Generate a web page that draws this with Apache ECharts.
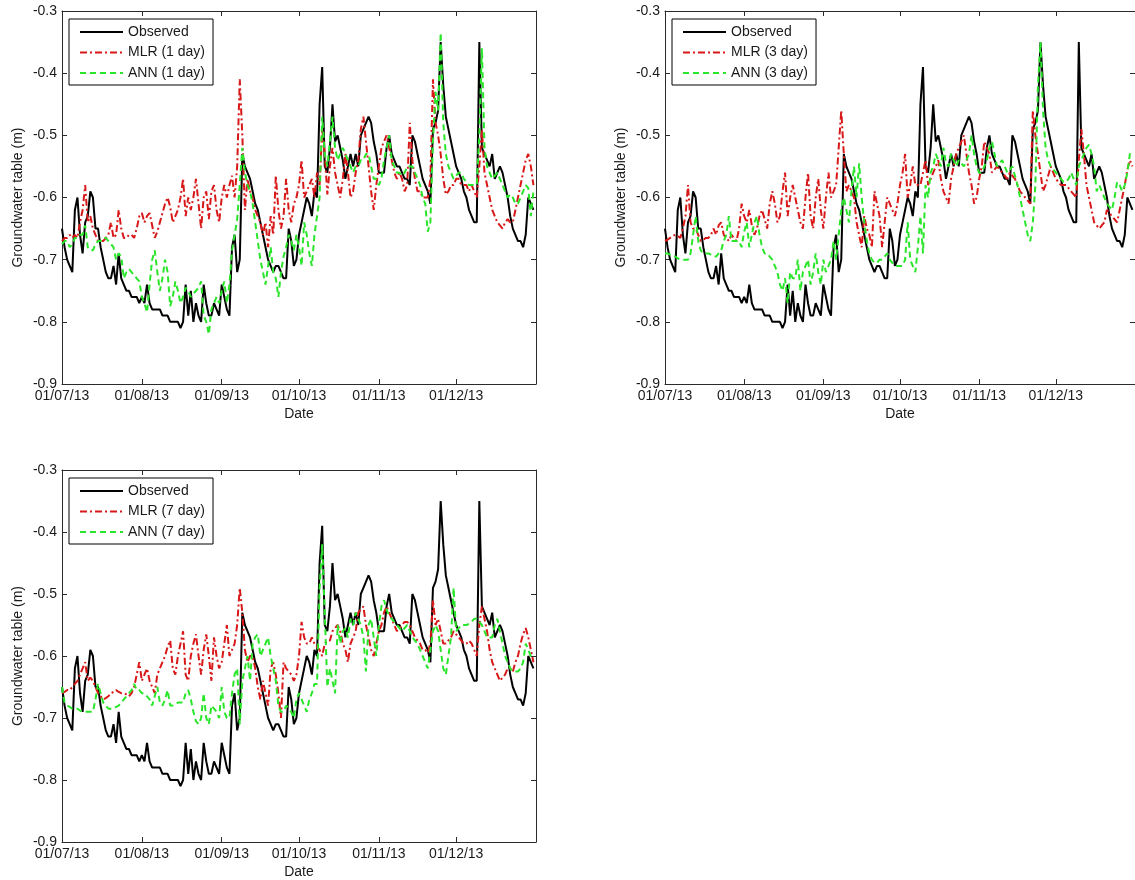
<!DOCTYPE html>
<html>
<head>
<meta charset="utf-8">
<title>Groundwater table: observed vs MLR and ANN forecasts</title>
<script src="https://cdn.jsdelivr.net/npm/echarts@6/dist/echarts.min.js"></script>
<style>
  html, body { margin: 0; padding: 0; background: #fff; overflow: hidden; }
  #chart { width: 1135px; height: 880px; }
</style>
</head>
<body>
<div id="chart"></div>
<script>
// Day index 0 = 01/07/13, one value per day through 31/12/13
const monthStartDays = [0, 31, 62, 92, 123, 153];
const monthLabels = ['01/07/13', '01/08/13', '01/09/13', '01/10/13', '01/11/13', '01/12/13'];
const yTicks = [-0.9, -0.8, -0.7, -0.6, -0.5, -0.4, -0.3];

const observed = [
-0.65,-0.68,-0.70,-0.71,-0.72,-0.62,-0.60,-0.66,-0.69,-0.64,
-0.63,-0.59,-0.60,-0.65,-0.65,-0.68,-0.70,-0.72,-0.73,-0.73,
-0.71,-0.74,-0.69,-0.73,-0.74,-0.75,-0.75,-0.76,-0.76,-0.76,
-0.77,-0.76,-0.77,-0.74,-0.77,-0.78,-0.78,-0.78,-0.78,-0.79,
-0.79,-0.79,-0.80,-0.80,-0.80,-0.80,-0.81,-0.80,-0.74,-0.79,
-0.75,-0.80,-0.77,-0.79,-0.80,-0.74,-0.77,-0.79,-0.79,-0.77,
-0.78,-0.79,-0.74,-0.76,-0.78,-0.79,-0.68,-0.66,-0.72,-0.70,
-0.53,-0.55,-0.56,-0.57,-0.59,-0.61,-0.62,-0.64,-0.66,-0.68,
-0.70,-0.71,-0.72,-0.71,-0.71,-0.72,-0.73,-0.73,-0.65,-0.67,
-0.71,-0.70,-0.66,-0.64,-0.62,-0.60,-0.61,-0.63,-0.59,-0.60,
-0.45,-0.39,-0.55,-0.56,-0.52,-0.45,-0.51,-0.50,-0.52,-0.54,
-0.57,-0.55,-0.53,-0.55,-0.53,-0.55,-0.50,-0.49,-0.48,-0.47,
-0.48,-0.51,-0.53,-0.56,-0.56,-0.56,-0.52,-0.50,-0.53,-0.54,
-0.55,-0.55,-0.56,-0.57,-0.57,-0.58,-0.50,-0.51,-0.53,-0.55,
-0.57,-0.58,-0.59,-0.61,-0.49,-0.48,-0.46,-0.35,-0.42,-0.47,
-0.49,-0.51,-0.53,-0.55,-0.56,-0.57,-0.59,-0.60,-0.62,-0.63,
-0.64,-0.64,-0.35,-0.52,-0.53,-0.54,-0.55,-0.53,-0.57,-0.56,
-0.55,-0.56,-0.58,-0.60,-0.63,-0.65,-0.66,-0.67,-0.67,-0.68,
-0.66,-0.60,-0.61,-0.62
];

const mlr1 = [
-0.67,-0.665,-0.665,-0.66,-0.665,-0.66,-0.665,-0.64,-0.62,-0.58,
-0.64,-0.63,-0.65,-0.66,-0.67,-0.67,-0.67,-0.665,-0.66,-0.64,
-0.665,-0.66,-0.62,-0.65,-0.665,-0.665,-0.66,-0.66,-0.665,-0.65,
-0.63,-0.625,-0.64,-0.63,-0.625,-0.645,-0.665,-0.655,-0.64,-0.625,
-0.61,-0.60,-0.615,-0.64,-0.63,-0.62,-0.60,-0.57,-0.63,-0.60,
-0.62,-0.60,-0.57,-0.61,-0.65,-0.60,-0.59,-0.635,-0.59,-0.58,
-0.62,-0.64,-0.60,-0.58,-0.60,-0.58,-0.565,-0.60,-0.55,-0.41,
-0.50,-0.62,-0.57,-0.59,-0.60,-0.62,-0.63,-0.64,-0.66,-0.64,
-0.68,-0.63,-0.66,-0.565,-0.62,-0.65,-0.63,-0.57,-0.62,-0.64,
-0.61,-0.60,-0.58,-0.54,-0.60,-0.59,-0.58,-0.57,-0.60,-0.56,
-0.58,-0.49,-0.53,-0.595,-0.55,-0.52,-0.56,-0.58,-0.60,-0.57,
-0.53,-0.56,-0.60,-0.59,-0.56,-0.54,-0.49,-0.47,-0.51,-0.55,
-0.59,-0.62,-0.58,-0.55,-0.52,-0.51,-0.50,-0.52,-0.54,-0.56,
-0.57,-0.56,-0.57,-0.59,-0.58,-0.48,-0.54,-0.57,-0.59,-0.59,
-0.60,-0.60,-0.60,-0.57,-0.41,-0.48,-0.50,-0.53,-0.57,-0.595,
-0.59,-0.58,-0.58,-0.57,-0.57,-0.58,-0.58,-0.58,-0.59,-0.58,
-0.59,-0.60,-0.55,-0.49,-0.56,-0.58,-0.60,-0.62,-0.63,-0.64,
-0.645,-0.65,-0.64,-0.635,-0.64,-0.64,-0.62,-0.60,-0.58,-0.56,
-0.54,-0.53,-0.55,-0.58
];

const ann1 = [
-0.675,-0.67,-0.67,-0.68,-0.675,-0.665,-0.665,-0.66,-0.66,-0.645,
-0.68,-0.685,-0.685,-0.675,-0.67,-0.67,-0.665,-0.665,-0.67,-0.675,
-0.68,-0.70,-0.69,-0.695,-0.73,-0.72,-0.715,-0.72,-0.725,-0.73,
-0.735,-0.76,-0.77,-0.785,-0.74,-0.70,-0.685,-0.72,-0.75,-0.73,
-0.70,-0.72,-0.775,-0.76,-0.735,-0.75,-0.77,-0.76,-0.745,-0.75,
-0.76,-0.755,-0.75,-0.745,-0.735,-0.79,-0.80,-0.82,-0.78,-0.77,
-0.76,-0.77,-0.75,-0.735,-0.77,-0.74,-0.685,-0.66,-0.635,-0.58,
-0.52,-0.56,-0.58,-0.59,-0.61,-0.64,-0.67,-0.70,-0.72,-0.74,
-0.71,-0.68,-0.72,-0.73,-0.76,-0.72,-0.695,-0.68,-0.66,-0.67,
-0.685,-0.66,-0.68,-0.71,-0.64,-0.66,-0.69,-0.71,-0.66,-0.63,
-0.60,-0.47,-0.53,-0.55,-0.51,-0.47,-0.52,-0.54,-0.53,-0.52,
-0.53,-0.54,-0.55,-0.56,-0.55,-0.55,-0.54,-0.54,-0.53,-0.53,
-0.55,-0.57,-0.57,-0.58,-0.57,-0.54,-0.52,-0.50,-0.54,-0.55,
-0.56,-0.56,-0.565,-0.56,-0.55,-0.55,-0.55,-0.56,-0.57,-0.58,
-0.60,-0.61,-0.655,-0.64,-0.51,-0.43,-0.46,-0.335,-0.48,-0.53,
-0.55,-0.56,-0.57,-0.565,-0.56,-0.56,-0.57,-0.575,-0.58,-0.58,
-0.58,-0.58,-0.50,-0.36,-0.52,-0.55,-0.56,-0.57,-0.565,-0.56,
-0.57,-0.58,-0.59,-0.60,-0.595,-0.60,-0.61,-0.61,-0.60,-0.59,
-0.58,-0.585,-0.63,-0.59
];

const mlr3 = [
-0.67,-0.668,-0.665,-0.662,-0.66,-0.662,-0.665,-0.65,-0.63,-0.58,
-0.64,-0.65,-0.65,-0.66,-0.67,-0.668,-0.665,-0.665,-0.66,-0.65,
-0.66,-0.645,-0.64,-0.66,-0.665,-0.67,-0.66,-0.665,-0.67,-0.65,
-0.61,-0.63,-0.64,-0.62,-0.645,-0.66,-0.65,-0.63,-0.62,-0.635,
-0.65,-0.61,-0.59,-0.61,-0.64,-0.63,-0.59,-0.56,-0.63,-0.60,
-0.58,-0.60,-0.62,-0.64,-0.65,-0.60,-0.56,-0.63,-0.65,-0.60,
-0.57,-0.62,-0.65,-0.60,-0.56,-0.60,-0.59,-0.58,-0.52,-0.46,
-0.53,-0.59,-0.58,-0.59,-0.60,-0.64,-0.66,-0.68,-0.63,-0.65,
-0.66,-0.68,-0.59,-0.61,-0.63,-0.68,-0.64,-0.60,-0.61,-0.62,
-0.63,-0.61,-0.58,-0.56,-0.53,-0.60,-0.58,-0.55,-0.58,-0.58,
-0.58,-0.56,-0.54,-0.58,-0.57,-0.56,-0.55,-0.54,-0.57,-0.59,
-0.60,-0.61,-0.57,-0.55,-0.53,-0.52,-0.51,-0.50,-0.53,-0.56,
-0.58,-0.61,-0.60,-0.57,-0.55,-0.51,-0.52,-0.53,-0.56,-0.555,
-0.55,-0.555,-0.56,-0.565,-0.57,-0.56,-0.565,-0.57,-0.58,-0.59,
-0.595,-0.60,-0.605,-0.61,-0.46,-0.50,-0.53,-0.56,-0.59,-0.58,
-0.565,-0.55,-0.56,-0.57,-0.575,-0.58,-0.58,-0.58,-0.585,-0.59,
-0.595,-0.60,-0.54,-0.49,-0.53,-0.58,-0.60,-0.62,-0.64,-0.645,
-0.65,-0.645,-0.64,-0.62,-0.625,-0.63,-0.635,-0.64,-0.62,-0.60,
-0.58,-0.555,-0.54,-0.55
];

const ann3 = [
-0.69,-0.69,-0.692,-0.695,-0.695,-0.698,-0.70,-0.70,-0.70,-0.70,
-0.69,-0.66,-0.63,-0.67,-0.685,-0.69,-0.69,-0.69,-0.692,-0.695,
-0.695,-0.69,-0.685,-0.67,-0.66,-0.63,-0.67,-0.67,-0.67,-0.67,
-0.68,-0.655,-0.64,-0.68,-0.66,-0.64,-0.63,-0.66,-0.68,-0.69,
-0.69,-0.695,-0.70,-0.71,-0.72,-0.74,-0.75,-0.73,-0.77,-0.72,
-0.73,-0.73,-0.70,-0.75,-0.72,-0.71,-0.70,-0.74,-0.72,-0.69,
-0.72,-0.74,-0.70,-0.72,-0.71,-0.70,-0.67,-0.70,-0.66,-0.62,
-0.60,-0.62,-0.64,-0.59,-0.55,-0.60,-0.545,-0.60,-0.64,-0.67,
-0.69,-0.70,-0.705,-0.705,-0.70,-0.70,-0.695,-0.69,-0.70,-0.705,
-0.71,-0.71,-0.71,-0.71,-0.70,-0.64,-0.70,-0.71,-0.72,-0.68,
-0.63,-0.69,-0.58,-0.60,-0.56,-0.55,-0.53,-0.54,-0.55,-0.52,
-0.545,-0.55,-0.53,-0.54,-0.55,-0.54,-0.545,-0.55,-0.54,-0.53,
-0.50,-0.53,-0.55,-0.56,-0.56,-0.55,-0.54,-0.52,-0.51,-0.53,
-0.55,-0.545,-0.54,-0.55,-0.56,-0.555,-0.55,-0.565,-0.58,-0.60,
-0.62,-0.64,-0.66,-0.67,-0.64,-0.58,-0.42,-0.35,-0.46,-0.52,
-0.54,-0.55,-0.555,-0.56,-0.565,-0.57,-0.575,-0.575,-0.57,-0.56,
-0.57,-0.58,-0.55,-0.54,-0.53,-0.52,-0.515,-0.53,-0.55,-0.59,
-0.58,-0.59,-0.60,-0.61,-0.615,-0.62,-0.60,-0.575,-0.58,-0.59,
-0.58,-0.56,-0.53,-0.53
];

const mlr7 = [
-0.66,-0.658,-0.655,-0.655,-0.65,-0.645,-0.64,-0.63,-0.62,-0.61,
-0.64,-0.635,-0.64,-0.65,-0.66,-0.665,-0.67,-0.668,-0.665,-0.66,
-0.658,-0.655,-0.658,-0.66,-0.66,-0.662,-0.665,-0.66,-0.65,-0.63,
-0.61,-0.64,-0.63,-0.62,-0.64,-0.65,-0.66,-0.63,-0.62,-0.61,
-0.60,-0.585,-0.575,-0.62,-0.63,-0.60,-0.58,-0.56,-0.63,-0.64,
-0.60,-0.58,-0.565,-0.60,-0.63,-0.59,-0.565,-0.60,-0.64,-0.57,
-0.60,-0.62,-0.61,-0.58,-0.55,-0.60,-0.59,-0.58,-0.55,-0.49,
-0.53,-0.59,-0.61,-0.60,-0.60,-0.62,-0.65,-0.67,-0.64,-0.66,
-0.68,-0.62,-0.61,-0.63,-0.66,-0.70,-0.61,-0.62,-0.625,-0.63,
-0.64,-0.63,-0.60,-0.545,-0.57,-0.58,-0.58,-0.57,-0.58,-0.585,
-0.59,-0.60,-0.58,-0.575,-0.575,-0.56,-0.555,-0.55,-0.56,-0.58,
-0.59,-0.61,-0.58,-0.57,-0.56,-0.53,-0.525,-0.52,-0.55,-0.57,
-0.59,-0.60,-0.58,-0.56,-0.55,-0.53,-0.52,-0.53,-0.54,-0.55,
-0.56,-0.555,-0.55,-0.545,-0.545,-0.55,-0.56,-0.57,-0.575,-0.58,
-0.59,-0.59,-0.595,-0.58,-0.51,-0.55,-0.54,-0.56,-0.58,-0.58,
-0.575,-0.57,-0.56,-0.565,-0.57,-0.575,-0.58,-0.58,-0.575,-0.58,
-0.59,-0.60,-0.55,-0.52,-0.54,-0.56,-0.59,-0.61,-0.62,-0.63,
-0.64,-0.635,-0.63,-0.62,-0.62,-0.625,-0.61,-0.60,-0.58,-0.565,
-0.555,-0.57,-0.59,-0.61
];

const ann7 = [
-0.65,-0.675,-0.68,-0.682,-0.685,-0.685,-0.685,-0.688,-0.69,-0.69,
-0.69,-0.69,-0.69,-0.67,-0.645,-0.66,-0.675,-0.68,-0.685,-0.685,
-0.685,-0.682,-0.68,-0.675,-0.67,-0.665,-0.66,-0.655,-0.645,-0.655,
-0.655,-0.66,-0.66,-0.665,-0.67,-0.68,-0.665,-0.65,-0.675,-0.68,
-0.67,-0.655,-0.68,-0.68,-0.678,-0.675,-0.675,-0.675,-0.66,-0.655,
-0.67,-0.69,-0.705,-0.71,-0.70,-0.66,-0.70,-0.71,-0.68,-0.685,
-0.69,-0.70,-0.65,-0.69,-0.70,-0.70,-0.66,-0.63,-0.62,-0.71,
-0.64,-0.62,-0.60,-0.64,-0.58,-0.57,-0.565,-0.60,-0.59,-0.58,
-0.57,-0.60,-0.62,-0.64,-0.68,-0.69,-0.69,-0.68,-0.685,-0.69,
-0.70,-0.67,-0.66,-0.67,-0.68,-0.69,-0.67,-0.66,-0.645,-0.645,
-0.49,-0.42,-0.53,-0.65,-0.62,-0.64,-0.66,-0.55,-0.58,-0.56,
-0.555,-0.57,-0.54,-0.55,-0.53,-0.54,-0.55,-0.57,-0.625,-0.55,
-0.54,-0.57,-0.60,-0.55,-0.52,-0.51,-0.525,-0.535,-0.54,-0.545,
-0.55,-0.555,-0.56,-0.555,-0.55,-0.56,-0.57,-0.575,-0.58,-0.59,
-0.60,-0.61,-0.62,-0.59,-0.56,-0.55,-0.56,-0.59,-0.62,-0.63,
-0.60,-0.57,-0.49,-0.56,-0.555,-0.55,-0.55,-0.55,-0.548,-0.545,
-0.54,-0.54,-0.545,-0.55,-0.56,-0.57,-0.57,-0.57,-0.55,-0.54,
-0.56,-0.58,-0.60,-0.61,-0.62,-0.625,-0.625,-0.625,-0.62,-0.61,
-0.58,-0.59,-0.60,-0.60
];

const panels = [
  { mlr: mlr1, ann: ann1, mlrName: 'MLR (1 day)', annName: 'ANN (1 day)', left: 62, top: 11 },
  { mlr: mlr3, ann: ann3, mlrName: 'MLR (3 day)', annName: 'ANN (3 day)', left: 665, top: 11 },
  { mlr: mlr7, ann: ann7, mlrName: 'MLR (7 day)', annName: 'ANN (7 day)', left: 62, top: 470 }
];

const FONT = 'Liberation Sans, Arial, Helvetica, sans-serif';
const TEXT = '#1a1a1a';
const FRAME = '#2b2b2b';
const RED = '#d81818';
const GREEN = '#2ae62a';
const PLOT_W = 474, PLOT_H = 373;
const X_MAX = 184;

const toPairs = arr => arr.map((v, i) => [i, v]);
const labelFor = v => {
  const k = monthStartDays.indexOf(Math.round(v));
  return k >= 0 ? monthLabels[k] : '';
};

const grid = [], xAxis = [], yAxis = [], series = [], legend = [];

panels.forEach((p, i) => {
  grid.push({ left: p.left, top: p.top, width: PLOT_W, height: PLOT_H, containLabel: false });

  const xBase = {
    type: 'value', gridIndex: i, min: 0, max: X_MAX,
    splitLine: { show: false },
    axisLine: { show: true, onZero: false, lineStyle: { color: FRAME, width: 1 } },
    axisTick: { show: true, inside: true, length: 5, customValues: monthStartDays, lineStyle: { color: FRAME } }
  };
  xAxis.push(Object.assign({}, xBase, {
    position: 'bottom',
    name: 'Date', nameLocation: 'middle', nameGap: 23,
    nameTextStyle: { color: TEXT, fontFamily: FONT, fontSize: 14 },
    axisLabel: {
      show: true, margin: 5, color: TEXT, fontFamily: FONT, fontSize: 14,
      customValues: monthStartDays, formatter: labelFor
    }
  }));
  xAxis.push(Object.assign({}, xBase, { position: 'top', axisLabel: { show: false } }));

  const yBase = {
    type: 'value', gridIndex: i, min: -0.9, max: -0.3, interval: 0.1,
    splitLine: { show: false },
    axisLine: { show: true, onZero: false, lineStyle: { color: FRAME, width: 1 } },
    axisTick: { show: true, inside: true, length: 5, lineStyle: { color: FRAME } }
  };
  yAxis.push(Object.assign({}, yBase, {
    position: 'left',
    name: 'Groundwater table (m)', nameLocation: 'middle', nameGap: 37, nameRotate: 90,
    nameTextStyle: { color: TEXT, fontFamily: FONT, fontSize: 14 },
    axisLabel: {
      show: true, margin: 5, color: TEXT, fontFamily: FONT, fontSize: 14,
      formatter: v => yTicks.includes(Math.round(v * 10) / 10) ? (Math.round(v * 10) / 10).toFixed(1) : ''
    }
  }));
  yAxis.push(Object.assign({}, yBase, { position: 'right', axisLabel: { show: false } }));

  const common = { type: 'line', xAxisIndex: 2 * i, yAxisIndex: 2 * i, symbol: 'none', showSymbol: false, animation: false, clip: true };
  series.push(Object.assign({}, common, {
    name: 'Observed', data: toPairs(observed), z: 2,
    itemStyle: { color: '#000000' },
    lineStyle: { color: '#000000', width: 2, type: 'solid' }
  }));
  series.push(Object.assign({}, common, {
    name: p.mlrName, data: toPairs(p.mlr), z: 3,
    itemStyle: { color: RED },
    lineStyle: { color: RED, width: 2, type: [7, 3, 2, 3] }
  }));
  series.push(Object.assign({}, common, {
    name: p.annName, data: toPairs(p.ann), z: 4,
    itemStyle: { color: GREEN },
    lineStyle: { color: GREEN, width: 2, type: [6, 4] }
  }));

  legend.push({
    data: ['Observed', p.mlrName, p.annName],
    orient: 'vertical',
    left: p.left + 7, top: p.top + 8,
    itemWidth: 43, itemHeight: 14, itemGap: 6.5,
    padding: [6, 8, 5, 10],
    backgroundColor: '#ffffff',
    borderColor: '#000000', borderWidth: 1, borderRadius: 0,
    selectedMode: false,
    // line sample only, no marker dot
    itemStyle: { opacity: 0 },
    textStyle: { color: TEXT, fontFamily: FONT, fontSize: 14 }
  });
});

const chart = echarts.init(document.getElementById('chart'), null, { renderer: 'canvas' });
chart.setOption({
  animation: false,
  backgroundColor: '#ffffff',
  grid, xAxis, yAxis, series, legend
});
</script>
</body>
</html>
